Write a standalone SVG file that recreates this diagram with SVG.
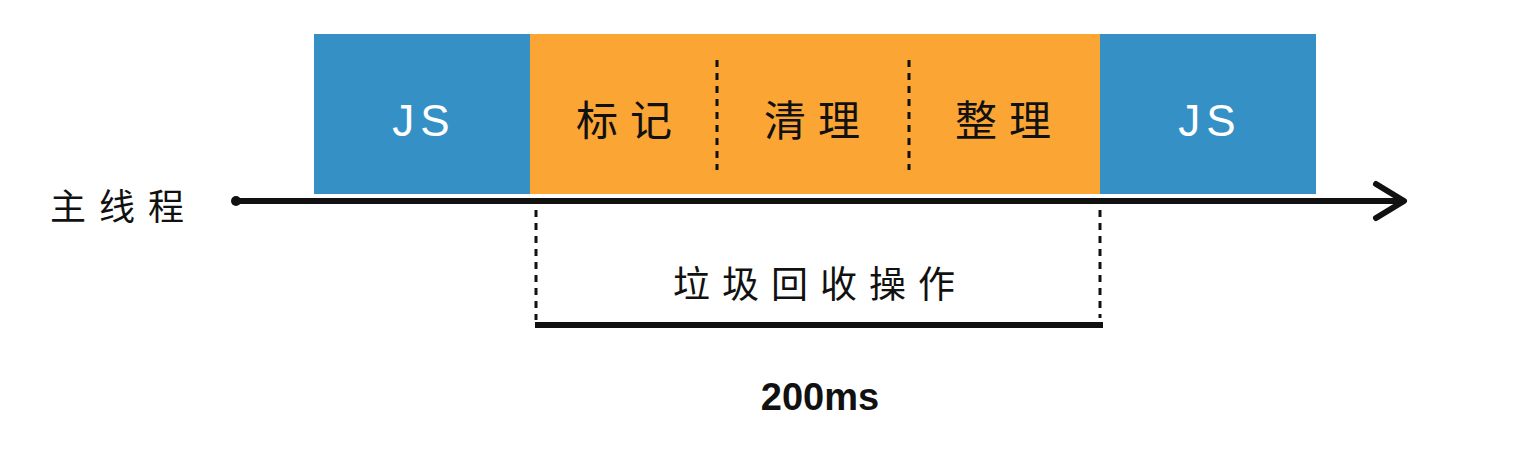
<svg xmlns="http://www.w3.org/2000/svg" width="1518" height="461" viewBox="0 0 1518 461">
<style>
.t{font-family:"Noto Sans CJK SC","Liberation Sans",sans-serif;fill:#111;}
.js{font-family:"Liberation Sans","Noto Sans",sans-serif;fill:#fff;font-size:44px;letter-spacing:6px;}
.dash{stroke:#111;stroke-width:3;stroke-dasharray:7,6;fill:none;}
</style>
<rect width="1518" height="461" fill="#fff"/>
<g id="js1">
<rect x="314" y="34" width="216" height="160" fill="#3590C6"/>
<text class="js" x="424" y="136" text-anchor="middle">JS</text>
</g>
<g id="gc">
<rect x="530" y="34" width="570" height="160" fill="#FBA535"/>
<text class="t" x="630" y="136" font-size="42" letter-spacing="12" text-anchor="middle">标记</text>
<text class="t" x="818" y="136" font-size="42" letter-spacing="12" text-anchor="middle">清理</text>
<text class="t" x="1009" y="136" font-size="42" letter-spacing="12" text-anchor="middle">整理</text>
<line class="dash" x1="717" y1="60" x2="717" y2="170"/>
<line class="dash" x1="909" y1="60" x2="909" y2="170"/>
</g>
<g id="js2">
<rect x="1100" y="34" width="216" height="160" fill="#3590C6"/>
<text class="js" x="1210" y="136" text-anchor="middle">JS</text>
</g>
<g id="mainthread">
<text class="t" x="50" y="220" font-size="36" letter-spacing="13">主线程</text>
</g>
<g id="connectors">
<line x1="235" y1="201" x2="1400" y2="201" stroke="#111" stroke-width="6" stroke-linecap="round"/>
<circle cx="236" cy="201" r="5" fill="#111"/>
<path d="M1376,184 L1404,201 L1376,218" fill="none" stroke="#111" stroke-width="6" stroke-linecap="round" stroke-linejoin="round"/>
<line class="dash" x1="536" y1="210" x2="536" y2="320"/>
<line class="dash" x1="1100" y1="210" x2="1100" y2="318"/>
<line x1="535" y1="325" x2="1103" y2="325" stroke="#111" stroke-width="6"/>
</g>
<g id="gclabel">
<text class="t" x="820" y="298" font-size="37" letter-spacing="12" text-anchor="middle">垃圾回收操作</text>
</g>
<g id="duration">
<text x="820" y="410" font-family="Liberation Sans, sans-serif" font-weight="bold" font-size="38" fill="#111" text-anchor="middle">200ms</text>
</g>
</svg>
